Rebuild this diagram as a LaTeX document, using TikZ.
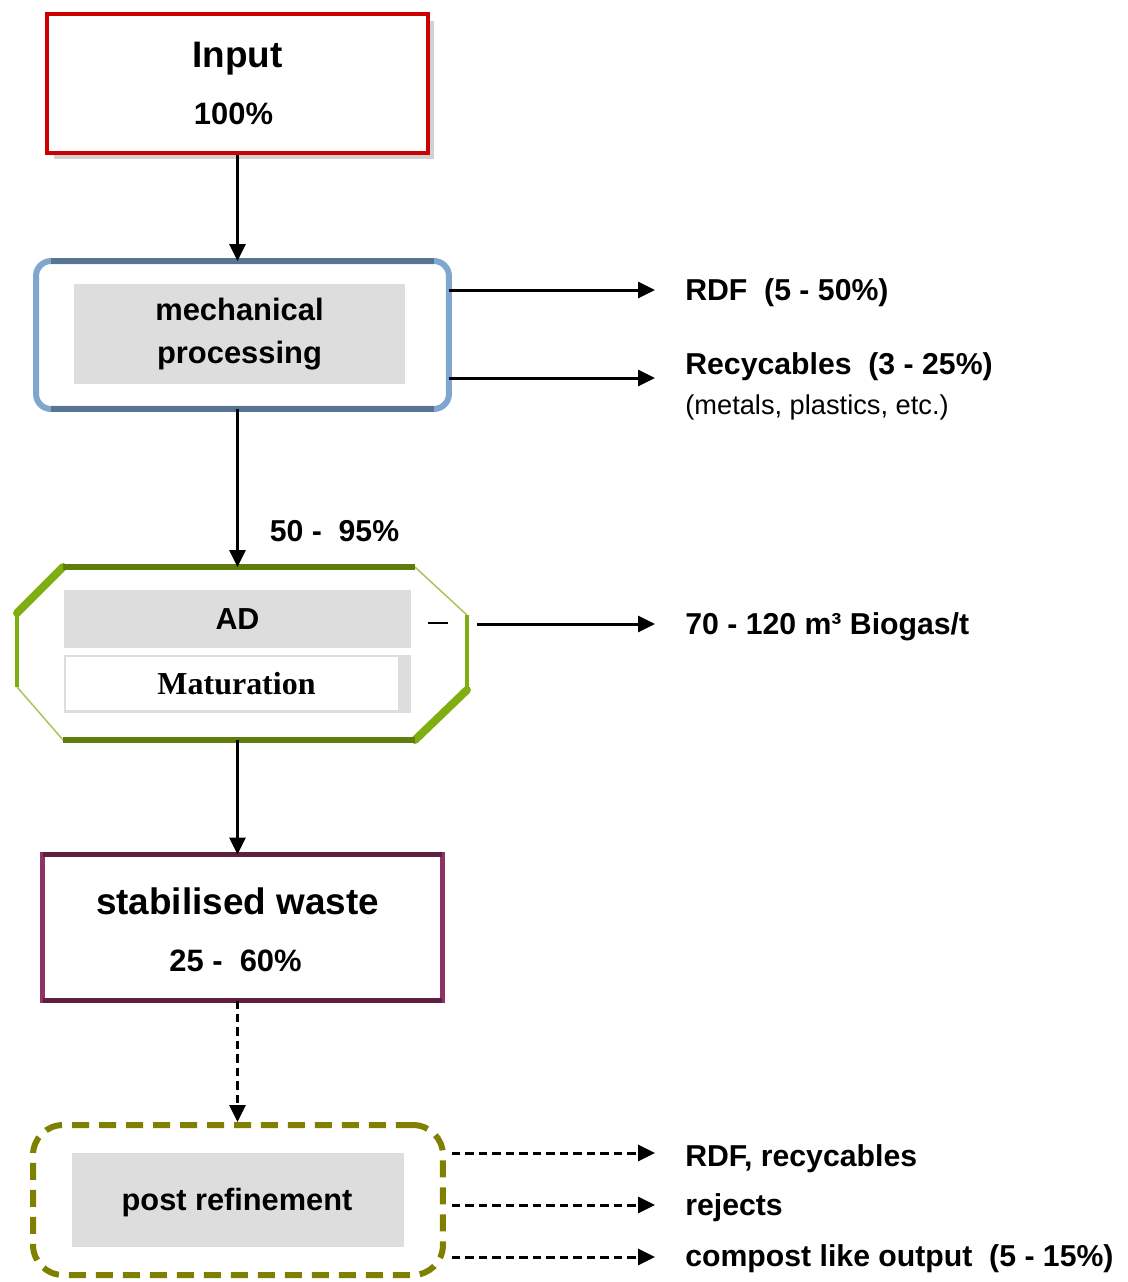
\documentclass[tikz,border=0pt]{standalone}
\usepackage{fontspec}
\setmainfont{Liberation Sans}
\newfontfamily\matfont{Liberation Serif}
\usetikzlibrary{calc,positioning,arrows.meta,shadows}

\definecolor{inred}{HTML}{CC0000}
\definecolor{mechlight}{HTML}{7EA6CE}
\definecolor{mechdark}{HTML}{577593}
\definecolor{adgreen}{HTML}{7FAE10}
\definecolor{addark}{HTML}{5F7D0B}
\definecolor{adlight}{HTML}{A5C65A}
\definecolor{stablight}{HTML}{8E3365}
\definecolor{stabdark}{HTML}{5E1F40}
\definecolor{postolive}{HTML}{808000}
\definecolor{greyfill}{HTML}{DDDDDD}

\begin{document}
\begin{tikzpicture}[x=0.02cm,y=-0.02cm]
	\tikzstyle{inbox}=[draw=inred, fill=white, line width=0.08cm, minimum width=7.62cm, minimum height=2.78cm, drop shadow={shadow xshift=0.13cm, shadow yshift=-0.13cm, fill=black!18, opacity=1}]
	\tikzstyle{mechbox}=[draw=mechlight, fill=white, line width=0.12cm, outer sep=0pt, rounded corners=0.3cm, minimum width=8.26cm, minimum height=2.96cm]
	\tikzstyle{stabbox}=[draw=stablight, fill=white, line width=0.1cm, outer sep=0pt, minimum width=8cm, minimum height=2.92cm]
	\tikzstyle{postbox}=[draw=postolive, line width=0.12cm, dash pattern=on 0.34cm off 0.2cm, rounded corners=0.6cm, minimum width=8.2cm, minimum height=3cm]
	\tikzstyle{greybox}=[fill=greyfill, text centered, inner sep=0pt]
	\tikzstyle{boxtext}=[font=\fontsize{17.6}{24.4}\selectfont\bfseries, align=center]
	\tikzstyle{outlabel}=[anchor=west, inner sep=0pt, yshift=-0.06cm, font=\fontsize{17.2}{20}\selectfont\bfseries]
	\tikzstyle{note}=[anchor=west, inner sep=0pt, font=\fontsize{15.5}{18}\selectfont]
	\tikzstyle{flow}=[-{Triangle[length=0.34cm,width=0.32cm]}, line width=0.06cm, black]
	\tikzstyle{dashflow}=[flow, dash pattern=on 0.17cm off 0.1cm]
	\tikzstyle{bevel}=[line width=0.16cm, line cap=round]

	\useasboundingbox (0,0) rectangle (1127,1282);

	% input
	\node (input) [inbox] at (237.5,83.5) {};
	\node (intitle) [font=\fontsize{21}{25}\selectfont\bfseries] at ($(input.center)+(0,-25)$) {Input};
	\node (inshare) [font=\fontsize{17.6}{21}\selectfont\bfseries] at ($(input.center)+(-4,30)$) {100\%};

	% mechanical processing
	\node (mech) [mechbox] at (242.5,335) {};
	\draw[mechdark, line width=0.12cm] ($(mech.north west)+(15,0)$) -- ($(mech.north east)+(-15,0)$);
	\draw[mechdark, line width=0.12cm] ($(mech.south west)+(15,0)$) -- ($(mech.south east)+(-15,0)$);
	\node (mechtxt) [greybox, boxtext, minimum width=6.62cm, minimum height=2cm] at (239.5,334) {mechanical\\processing};

	\node (rdf) [outlabel] at (685,290) {RDF\ \ (5 - 50\%)};
	\node (rec) [outlabel] at (685,364) {Recycables\ \ (3 - 25\%)};
	\node (metals) [note, below=0.8cm of rec.west, anchor=west] {(metals, plastics, etc.)};
	\coordinate (rdfin) at ($(rdf.west)+(-30,-3)$);
	\coordinate (recin) at ($(rec.west)+(-30,11)$);

	\node (share) [font=\fontsize{17.2}{20}\selectfont\bfseries] at (334.5,531) {50 -\ \ 95\%};

	% AD / maturation
	\node (ad) [minimum width=9cm, minimum height=3.46cm, inner sep=0pt, outer sep=0pt] at (242,653.5) {};
	\coordinate (o1) at ($(ad.north west)+(46,0)$);
	\coordinate (o2) at ($(ad.north east)+(-52,0)$);
	\coordinate (o3) at ($(ad.north east)+(0,48)$);
	\coordinate (o4) at ($(ad.south east)+(0,-50)$);
	\coordinate (o5) at ($(ad.south east)+(-52,0)$);
	\coordinate (o6) at ($(ad.south west)+(46,0)$);
	\coordinate (o7) at ($(ad.south west)+(0,-53)$);
	\coordinate (o8) at ($(ad.north west)+(0,46)$);
	\fill[white] (o1) -- (o2) -- (o3) -- (o4) -- (o5) -- (o6) -- (o7) -- (o8) -- cycle;
	\draw[adlight, line width=0.03cm] (o2) -- (o3);
	\draw[adlight, line width=0.03cm] (o6) -- (o7);
	\draw[adgreen, line width=0.09cm] (o3) -- (o4);
	\draw[adgreen, line width=0.09cm] (o7) -- (o8);
	\draw[adgreen, bevel] (o8) -- (o1);
	\draw[adgreen, bevel] (o4) -- (o5);
	\draw[addark, line width=0.12cm] (o1) -- (o2);
	\draw[addark, line width=0.12cm] (o5) -- (o6);

	\node (adbox) [greybox, boxtext, font=\fontsize{17.3}{20}\selectfont\bfseries, minimum width=6.94cm, minimum height=1.16cm] at (237.5,619) {AD};
	\node (matbg) [greybox, minimum width=6.94cm, minimum height=1.16cm] at (237.5,684) {};
	\node (matwhite) [fill=white, inner sep=0pt, minimum width=6.64cm, minimum height=1.06cm] at (232,683.5) {};
	\node (mat) [font=\fontsize{18.2}{22}\selectfont\matfont\bfseries] at (236.5,684) {Maturation};
	\draw[line width=0.03cm] (428,623) -- (448,623);

	\node (bio) [outlabel] at (685,624) {70 - 120 m³ Biogas/t};
	\coordinate (bioin) at ($(bio.west)+(-30,-3)$);
	\coordinate (bioout) at ($(ad.east |- bioin)+(10,0)$);

	% stabilised waste
	\node (stab) [stabbox] at (242.5,927.5) {};
	\draw[stabdark, line width=0.1cm] (stab.north west) -- (stab.north east);
	\draw[stabdark, line width=0.1cm] (stab.south west) -- (stab.south east);
	\node (stabtitle) [font=\fontsize{21}{25}\selectfont\bfseries] at ($(stab.center)+(-5,-26)$) {stabilised waste};
	\node (stabshare) [font=\fontsize{17.6}{21}\selectfont\bfseries] at ($(stab.center)+(-7,33)$) {25 -\ \ 60\%};

	% post refinement
	\node (post) [postbox] at (238,1200) {};
	\node (postbg) [greybox, minimum width=6.64cm, minimum height=1.88cm] at (238,1200) {};
	\node (posttxt) [font=\fontsize{17.5}{20}\selectfont\bfseries] at (237,1203) {post refinement};

	\node (prdf) [outlabel] at (685,1156) {RDF, recycables};
	\node (prej) [outlabel] at (685,1205) {rejects};
	\node (pcomp) [outlabel] at (685,1256) {compost like output\ \ (5 - 15\%)};
	\coordinate (prdfin) at ($(prdf.west)+(-30,-6)$);
	\coordinate (prejin) at ($(prej.west)+(-30,-3)$);
	\coordinate (pcompin) at ($(pcomp.west)+(-30,-2)$);

	% connectors
	\draw[flow] (input.south) -- (input.south |- mech.north);
	\draw[flow] (mech.east |- rdfin) -- (rdfin);
	\draw[flow] (mech.east |- recin) -- (recin);
	\draw[flow] (input.south |- mech.south) -- (input.south |- ad.north);
	\draw[flow] (bioout) -- (bioin);
	\draw[flow] (input.south |- ad.south) -- (input.south |- stab.north);
	\draw[dashflow] (input.south |- stab.south) -- (input.south |- post.north);
	\draw[dashflow] ($(post.east |- prdfin)+(6,0)$) -- (prdfin);
	\draw[dashflow] ($(post.east |- prejin)+(6,0)$) -- (prejin);
	\draw[dashflow] ($(post.east |- pcompin)+(6,0)$) -- (pcompin);
\end{tikzpicture}
\end{document}
